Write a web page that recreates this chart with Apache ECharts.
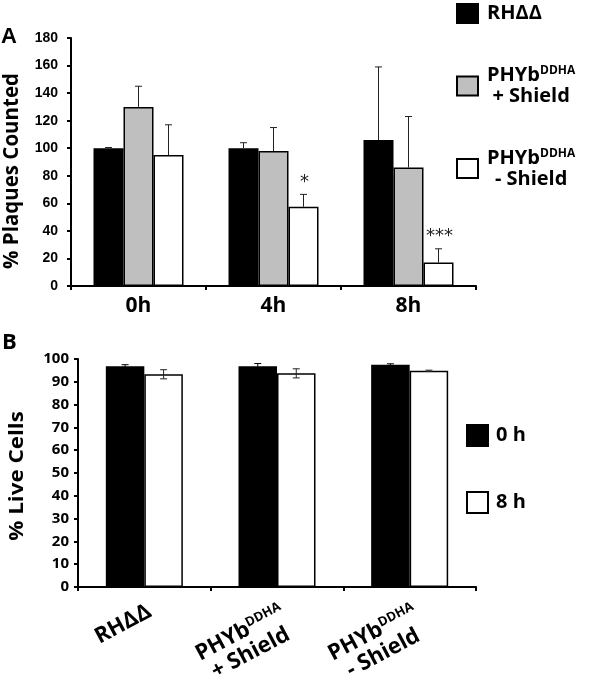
<!DOCTYPE html>
<html><head><meta charset="utf-8">
<script src="https://cdn.jsdelivr.net/npm/echarts@6/dist/echarts.min.js"></script>
<style>html,body{margin:0;padding:0;background:#fff}#c{width:600px;height:681px}</style>
</head><body><div id="c"></div>
<script>
// ---- Panel A data ----
var catsA = ['0h', '4h', '8h'];
var seriesNamesA = ['RHΔΔ', 'PHYb+', 'PHYb-'];
var rhA = [100, 100, 106];
var rhErrA = [0.5, 4, 53];
var plusA = [130, 98, 86];
var plusErrA = [15, 17, 37];
var minusA = [95, 57.5, 17];
var minusErrA = [22, 9, 10];
var sigA = ['', '*', '***'];
var yTicksA = [0, 20, 40, 60, 80, 100, 120, 140, 160, 180];
var titleA = '% Plaques Counted';

// ---- Panel B data ----
var catsB = ['RHΔΔ', 'PHYb+', 'PHYb-'];
var seriesNamesB = ['0 h', '8 h'];
var h0B = [96.8, 96.8, 97.5];
var h0ErrB = [0.7, 1.2, 0.4];
var h8B = [93.3, 93.7, 94.8];
var h8ErrB = [2, 2, 0.3];
var yTicksB = [0, 10, 20, 30, 40, 50, 60, 70, 80, 90, 100];
var titleB = '% Live Cells';

var colorsA = ['#000000', '#bfbfbf', '#ffffff'];
var colorsB = ['#000000', '#ffffff'];
var BW_A = 30, BW_B = 38.5;

var chart = echarts.init(document.getElementById('c'), null, {renderer: 'canvas'});

function errSeriesA(idx, vals, errs, sig) {
  var data = vals.map(function (v, i) { return [i, v, errs[i], sig ? sig[i] : '']; });
  return {
    type: 'custom', xAxisIndex: 0, yAxisIndex: 0, z: 5, silent: true,
    data: data, encode: {x: 0, y: 1},
    renderItem: function (params, api) {
      var c = api.value(0), v = api.value(1), e = api.value(2);
      var p0 = api.coord([c, v]);
      var p1 = api.coord([c, v + e]);
      var x = p0[0] + (idx - 1) * BW_A;
      var children = [
        {type: 'line', shape: {x1: x, y1: p0[1], x2: x, y2: p1[1]}, style: {stroke: '#222', lineWidth: 1}},
        {type: 'line', shape: {x1: x - 3.5, y1: p1[1], x2: x + 3.5, y2: p1[1]}, style: {stroke: '#222', lineWidth: 1}}
      ];
      var s = data[params.dataIndex][3];
      if (s) {
        children.push({type: 'text', style: {text: s, x: x + 1, y: p1[1] - 3, align: 'center', verticalAlign: 'bottom',
          font: 'normal 18px "DejaVu Sans"', fill: '#222'}});
      }
      return {type: 'group', children: children};
    }
  };
}
function errSeriesB(idx, vals, errs) {
  var data = vals.map(function (v, i) { return [i, v, errs[i]]; });
  return {
    type: 'custom', xAxisIndex: 1, yAxisIndex: 1, z: 5, silent: true,
    data: data, encode: {x: 0, y: 1},
    renderItem: function (params, api) {
      var c = api.value(0), v = api.value(1), e = api.value(2);
      var pl = api.coord([c, v - e]);
      var ph = api.coord([c, v + e]);
      var x = pl[0] + (idx - 0.5) * BW_B;
      var col = idx === 0 ? '#000' : '#222';
      return {type: 'group', children: [
        {type: 'line', shape: {x1: x, y1: pl[1], x2: x, y2: ph[1]}, style: {stroke: col, lineWidth: 1}},
        {type: 'line', shape: {x1: x - 3.5, y1: ph[1], x2: x + 3.5, y2: ph[1]}, style: {stroke: col, lineWidth: 1}},
        {type: 'line', shape: {x1: x - 3.5, y1: pl[1], x2: x + 3.5, y2: pl[1]}, style: {stroke: col, lineWidth: 1}}
      ]};
    }
  };
}

var supRich = {
  p: {fontSize: 20, fontWeight: 'bold', fontFamily: 'Open Sans', align: 'center', color: '#000', lineHeight: 21},
  s: {fontSize: 12, fontWeight: 'bold', fontFamily: 'Open Sans', align: 'center', color: '#000', verticalAlign: 'top', padding: [0, 0, 8, 0], lineHeight: 21},
  n: {fontSize: 20, fontWeight: 'bold', fontFamily: 'Open Sans', align: 'center', color: '#000', lineHeight: 21}
};
var xRichB = {
  p: {fontSize: 22, fontWeight: 'bold', fontFamily: 'Open Sans', align: 'center', color: '#000', lineHeight: 23},
  s: {fontSize: 13, fontWeight: 'bold', fontFamily: 'Open Sans', align: 'center', color: '#000', verticalAlign: 'top', padding: [0, 0, 10, 0], lineHeight: 23},
  n: {fontSize: 22, fontWeight: 'bold', fontFamily: 'Open Sans', align: 'center', color: '#000', lineHeight: 23}
};
function labelFmt(name) {
  if (name === 'PHYb+') return '{p|PHYb}{s|DDHA}\n{n|+ Shield}';
  if (name === 'PHYb-') return '{p|PHYb}{s|DDHA}\n{n|- Shield}';
  return '{n|' + name + '}';
}

var axisLineStyle = {color: '#000', width: 2};

var option = {
  animation: false,
  backgroundColor: '#fff',
  grid: [
    {left: 71, top: 38, width: 405, height: 248, outerBoundsMode: 'none', containLabel: false},
    {left: 78, top: 359, width: 398, height: 228, outerBoundsMode: 'none', containLabel: false}
  ],
  xAxis: [
    {type: 'category', gridIndex: 0, data: catsA,
     axisLine: {lineStyle: axisLineStyle}, axisTick: {show: true, length: 4, lineStyle: {color: '#000', width: 2}},
     axisLabel: {fontFamily: 'Open Sans', fontWeight: 'bold', fontSize: 21, color: '#000', margin: 10}},
    {type: 'category', gridIndex: 1, data: catsB,
     axisLine: {lineStyle: axisLineStyle}, axisTick: {show: true, length: 4, lineStyle: {color: '#000', width: 2}},
     axisLabel: {rotate: 28, margin: 13, align: 'right', verticalAlign: 'top', formatter: labelFmt, rich: xRichB}}
  ],
  yAxis: [
    {type: 'value', gridIndex: 0, min: 0, max: 180, interval: 20,
     axisLine: {show: true, lineStyle: axisLineStyle}, axisTick: {show: true, length: 4, lineStyle: {color: '#000', width: 2}},
     splitLine: {show: false},
     axisLabel: {fontFamily: 'Liberation Sans', fontWeight: 'bold', fontSize: 14, color: '#000', margin: 13,
       formatter: function (v) { return yTicksA.indexOf(v) >= 0 ? String(v) : ''; }}},
    {type: 'value', gridIndex: 1, min: 0, max: 100, interval: 10,
     axisLine: {show: true, lineStyle: axisLineStyle}, axisTick: {show: true, length: 4, lineStyle: {color: '#000', width: 2}},
     splitLine: {show: false},
     axisLabel: {fontFamily: 'Open Sans', fontWeight: 'bold', fontSize: 15, color: '#000', margin: 9,
       formatter: function (v) { return yTicksB.indexOf(v) >= 0 ? String(v) : ''; }}}
  ],
  legend: [
    {orient: 'vertical', left: 456, top: 3, padding: 0, itemWidth: 21, itemHeight: 19, itemGap: 41,
     data: seriesNamesA, icon: 'rect',
     formatter: labelFmt,
     textStyle: {rich: supRich, padding: [0, 0, 0, 4]}},
    {orient: 'vertical', left: 466, top: 424, padding: 0, itemWidth: 21, itemHeight: 21, itemGap: 44,
     data: seriesNamesB, icon: 'rect',
     textStyle: {fontFamily: 'Open Sans', fontWeight: 'bold', fontSize: 20, color: '#000', padding: [0, 0, 0, 3]}}
  ],
  graphic: [
    {type: 'text', left: 1, top: 26, style: {text: 'A', font: 'bold 22px "Liberation Sans"', fill: '#000'}},
    {type: 'text', left: 2, top: 332, style: {text: 'B', font: 'bold 22px "Open Sans"', fill: '#000'}},
    {type: 'text', x: 12, y: 171, rotation: Math.PI / 2,
     style: {text: titleA, x: 0, y: 0, align: 'center', verticalAlign: 'middle', font: 'bold 20.5px "Open Sans"', fill: '#000'}},
    {type: 'text', x: 17, y: 476, rotation: Math.PI / 2, scaleX: 1.12,
     style: {text: titleB, x: 0, y: 0, align: 'center', verticalAlign: 'middle', font: 'bold 20px "Open Sans"', fill: '#000'}}
  ],
  series: [
    {name: seriesNamesA[0], type: 'bar', xAxisIndex: 0, yAxisIndex: 0, data: rhA, barWidth: BW_A, barGap: '0%',
     itemStyle: {color: colorsA[0], borderColor: '#000', borderWidth: 1.5}},
    {name: seriesNamesA[1], type: 'bar', xAxisIndex: 0, yAxisIndex: 0, data: plusA, barWidth: BW_A, barGap: '0%',
     itemStyle: {color: colorsA[1], borderColor: '#000', borderWidth: 1.5}},
    {name: seriesNamesA[2], type: 'bar', xAxisIndex: 0, yAxisIndex: 0, data: minusA, barWidth: BW_A, barGap: '0%',
     itemStyle: {color: colorsA[2], borderColor: '#000', borderWidth: 1.5}},
    errSeriesA(0, rhA, rhErrA),
    errSeriesA(1, plusA, plusErrA),
    errSeriesA(2, minusA, minusErrA, sigA),
    {name: seriesNamesB[0], type: 'bar', xAxisIndex: 1, yAxisIndex: 1, data: h0B, barWidth: BW_B, barGap: '0%',
     itemStyle: {color: colorsB[0], borderColor: '#000', borderWidth: 1.5}},
    {name: seriesNamesB[1], type: 'bar', xAxisIndex: 1, yAxisIndex: 1, data: h8B, barWidth: BW_B, barGap: '0%',
     itemStyle: {color: colorsB[1], borderColor: '#000', borderWidth: 1.5}},
    errSeriesB(0, h0B, h0ErrB),
    errSeriesB(1, h8B, h8ErrB)
  ]
};
chart.setOption(option);
</script></body></html>
